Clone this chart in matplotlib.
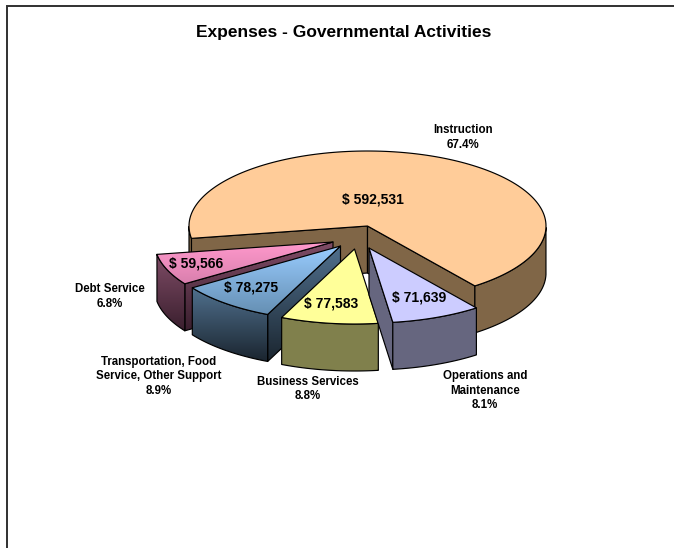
import matplotlib
matplotlib.use("Agg")
import matplotlib.pyplot as plt
from matplotlib.colors import LinearSegmentedColormap
from matplotlib.patches import Polygon
import numpy as np

categories = ["Instruction", "Operations and\nMaintenance", "Business Services",
              "Transportation, Food\nService, Other Support", "Debt Service"]
amounts = [592531, 71639, 77583, 78275, 59566]
percent_labels = ["67.4%", "8.1%", "8.8%", "8.9%", "6.8%"]
amount_labels = ["$ 592,531", "$ 71,639", "$ 77,583", "$ 78,275", "$ 59,566"]

plt.rcParams["font.family"] = ["Liberation Sans", "DejaVu Sans"]
plt.rcParams["font.weight"] = "bold"

RADIUS_X, RADIUS_Y = 178.5, 75
DEPTH = 47
FIRST_ANGLE = 189.5

# apex of every exploded slice, canvas pixels
apexes = [(367.5, 226), (369, 248), (354.5, 249), (340.5, 246), (333, 242)]
amount_pos = [(373, 199), (419, 297), (331, 304), (251, 287), (196, 264)]
label_pos = [(463, 137.5), (485, 390.5), (308, 389), (159, 376.5), (110, 296.5)]
draw_order = [0, 4, 3, 2, 1]

# top colours (start, end) and side colours (start, end), drawn top to bottom
top_colors = [("#FFCC99", "#FFCC99"), ("#CCCCFF", "#CCCCFF"), ("#FFFF99", "#FFFF99"),
              ("#99CCFF", "#6690B4"), ("#FF99CC", "#D97FAD")]
side_colors = [("#806647", "#806647"), ("#66667F", "#66667F"), ("#80804C", "#80804C"),
               ("#50708E", "#1B2630"), ("#7F4C66", "#3A1F2E")]


def rim(apex, angles):
    t = np.radians(angles)
    return np.column_stack([apex[0] + RADIUS_X * np.cos(t), apex[1] - RADIUS_Y * np.sin(t)])


def fill(ax, points, colors, z):
    points = np.asarray(points)
    poly = Polygon(points, closed=True, facecolor="none", edgecolor="black",
                   linewidth=0.85, joinstyle="round", zorder=z + 0.5)
    ax.add_patch(poly)
    if colors[0] == colors[1]:
        poly.set_facecolor(colors[0])
        return
    # vertical shading clipped to the face
    cmap = LinearSegmentedColormap.from_list("shade", colors)
    x0, x1 = points[:, 0].min(), points[:, 0].max()
    y0, y1 = points[:, 1].min(), points[:, 1].max()
    shade = ax.imshow(np.linspace(0, 1, 64)[:, None], cmap=cmap, aspect="auto",
                      extent=(x0, x1, y1, y0), zorder=z, interpolation="bilinear")
    shade.set_clip_path(Polygon(points, closed=True, transform=ax.transData))


fig = plt.figure(figsize=(6.74, 5.48), dpi=100)
ax = fig.add_axes([0, 0, 1, 1])
ax.set_xlim(0, 674)
ax.set_ylim(548, 0)
ax.axis("off")

# chart frame, cut by the right and the bottom of the canvas
ax.plot([7, 7, 674], [548, 6, 6], color="#303030", lw=1.4, solid_joinstyle="miter")

ax.text(344, 32, "Expenses - Governmental Activities", ha="center", va="center", fontsize=12.5)

sweeps = 360 * np.array(amounts) / sum(amounts)
stops = FIRST_ANGLE - np.cumsum(sweeps)
starts = stops + sweeps

z = 2
for i in draw_order:
    apex = np.array(apexes[i], dtype=float)
    down = np.array([0, DEPTH])
    angles = np.linspace(starts[i], stops[i], 160)
    edge = rim(apex, angles)
    sides = side_colors[i]

    # radial walls, only those turned towards the viewer
    if np.sin(np.radians(starts[i] + 90)) < 0:
        fill(ax, [apex, edge[0], edge[0] + down, apex + down], sides, z)
        z += 1
    if np.sin(np.radians(stops[i] - 90)) < 0:
        fill(ax, [apex, edge[-1], edge[-1] + down, apex + down], sides, z)
        z += 1

    # outer wall, front half of the rim only; the big slice has two such runs
    facing = np.flatnonzero(np.sin(np.radians(angles)) < 0)
    for run in np.split(facing, np.flatnonzero(np.diff(facing) > 1) + 1):
        if len(run) > 1:
            fill(ax, np.vstack([edge[run], edge[run][::-1] + down]), sides, z)
            z += 1

    fill(ax, np.vstack([apex, edge]), top_colors[i], z)
    z += 1

for i, name in enumerate(categories):
    ax.text(*amount_pos[i], amount_labels[i], ha="center", va="center", fontsize=10, zorder=z + 1)
    ax.text(*label_pos[i], name + "\n" + percent_labels[i], ha="center", va="center", fontsize=8.3,
            linespacing=1.28, zorder=z + 1)

fig.savefig("out.png", dpi=100, facecolor="white")
